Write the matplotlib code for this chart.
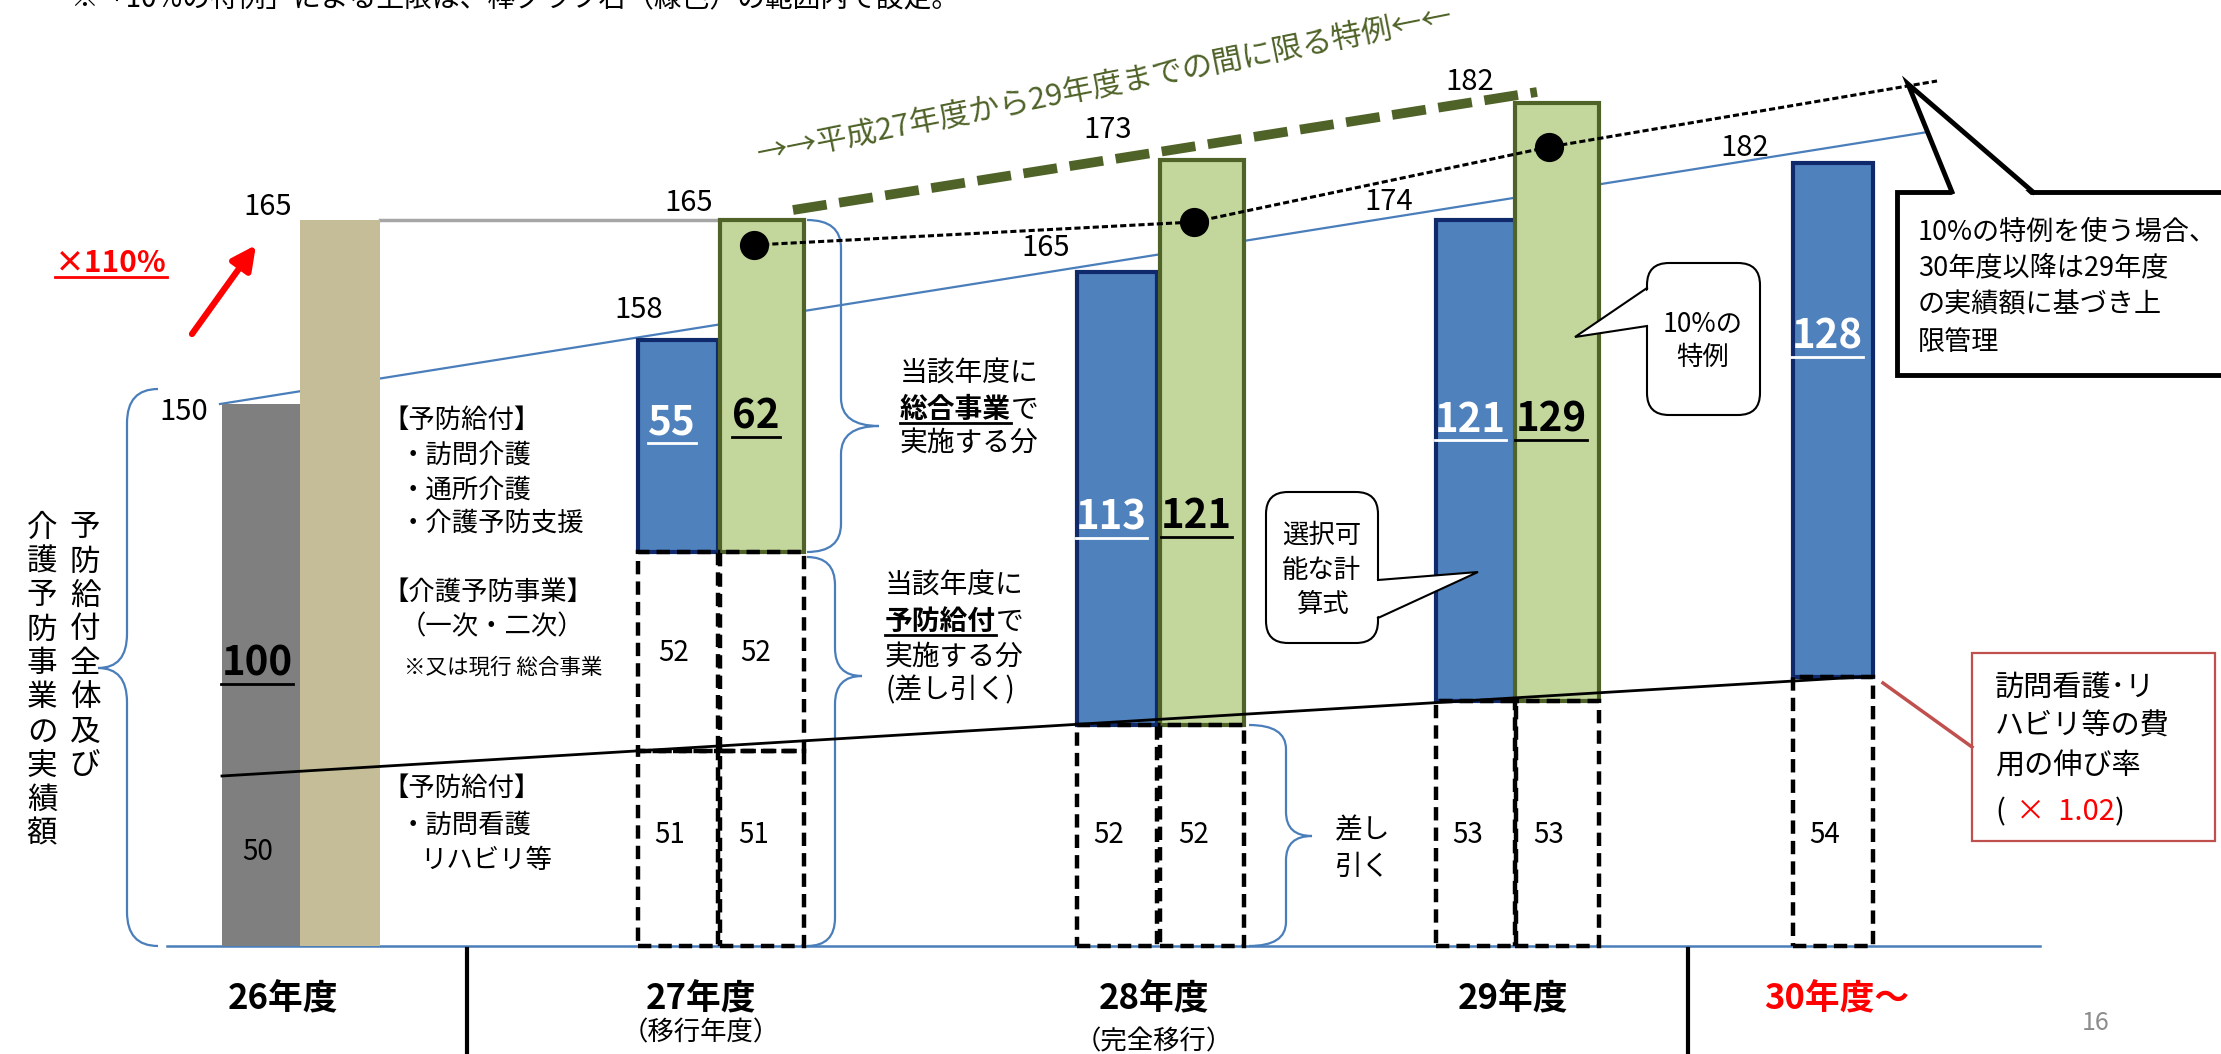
import matplotlib.pyplot as plt
from matplotlib.path import Path
from matplotlib.patches import PathPatch, FancyBboxPatch, Rectangle, Polygon

plt.rcParams['font.family'] = ['Noto Sans CJK JP', 'DejaVu Sans']

W, H = 2221, 1054
BASE = 946  # baseline row of the slide (px from top)


def up(v):
    # slide row (px from top) -> height above the baseline
    return BASE - v


# ---- categories / labels
years = ['26年度', '27年度', '28年度', '29年度', '30年度～']
year_notes = ['', '（移行年度）', '（完全移行）', '', '']
year_colors = ['black', 'black', 'black', 'black', 'red']

# ---- values printed on the slide
actual26 = 150
actual26_total = 100
actual26_nurse = 50
special26 = 165
std_totals = [158, 165, 174, 182]        # 27..30
special_totals = [165, 173, 182]         # 27..29
blue_vals = [55, 113, 121, 128]          # 27..30
green_vals = [62, 121, 129]              # 27..29
nurse_vals = [51, 52, 53, 54]            # 27..30
prev27_val = 52

# ---- drawn heights above baseline (the slide is not drawn to scale)
h26_gray = 542
h26_split = 170
h26_tan = 726
nurse_h = [195, 221, 245, 269]
prev27_h = 394
blue_top_h = [606, 674, 726, 783]
green_top_h = [726, 786, 843]
dot_h = [701, 724, 799, 865]

# ---- x positions
x26 = [261, 340]
blue_x = [678, 1117, 1476, 1833]
green_x = [762, 1202, 1557]
year_x = [283, 701, 1154, 1513, 1837]

BLUE = '#4F81BD'
NAVY = '#10296B'
GREEN = '#C3D69B'
OLIVE = '#4F6228'
LBLUE = '#4A7EBB'

fig = plt.figure(figsize=(W / 100, H / 100), dpi=100)
ax = fig.add_axes([0, 0, 1, 1])
ax.set_xlim(0, W)
ax.set_ylim(BASE - H, BASE)
ax.axis('off')

# ---- lines behind the bars
ax.plot([167, 2040], [0, 0], color=LBLUE, lw=1.8, zorder=2)
ax.plot([220, 1934], [h26_gray, 815], color=LBLUE, lw=1.6, zorder=2)
ax.plot([x26[1] + 40, green_x[0] - 24], [h26_tan, h26_tan], color='#A6A6A6', lw=2.5, zorder=2)

# ---- bars
ax.bar(x26[0], h26_gray, width=78, color='#7F7F7F', zorder=3)
ax.bar(x26[1], h26_tan, width=80, color='#C4BD97', zorder=3)
blue_bot = [prev27_h] + nurse_h[1:]
ax.bar(blue_x, [t - b for t, b in zip(blue_top_h, blue_bot)], bottom=blue_bot, width=80,
       color=BLUE, edgecolor=NAVY, linewidth=3, zorder=3)
green_bot = [prev27_h] + nurse_h[1:3]
ax.bar(green_x, [t - b for t, b in zip(green_top_h, green_bot)], bottom=green_bot, width=84,
       color=GREEN, edgecolor=OLIVE, linewidth=3, zorder=3)

# dashed boxes (差し引く分)
dash_x = blue_x + green_x
dash_h = nurse_h + nurse_h[:3]
dash_w = [80] * 4 + [84] * 3
ax.bar(dash_x, dash_h, width=dash_w, fill=False, edgecolor='black', linewidth=3.2,
       linestyle=(0, (3, 1.6)), zorder=4)
ax.bar([blue_x[0], green_x[0]], prev27_h - nurse_h[0], bottom=nurse_h[0], width=[80, 84],
       fill=False, edgecolor='black', linewidth=3.2, linestyle=(0, (3, 1.6)), zorder=4)

# ---- trend lines on top
ax.plot([222, 1860], [h26_split, nurse_h[-1]], color='black', lw=2, zorder=5)
dot_x = [g - 8 for g in green_x] + [1937]
ax.plot(dot_x, dot_h, color='black', lw=2.2, ls=(0, (2, 1)), zorder=6)
ax.plot(dot_x[:3], dot_h[:3], 'o', color='black', ms=20, zorder=6)
ax.plot([793, 1537], [736, 854], color=OLIVE, lw=7, ls=(0, (3.5, 1.3)),
        solid_capstyle='butt', zorder=6)
ax.text(1105, up(86), '→→平成27年度から29年度までの間に限る特例←←', rotation=11.3,
        rotation_mode='anchor', color=OLIVE, fontsize=22, ha='center', va='center')

# ---- braces


def brace(x_end, x_spine, x_tip, top, bot, tip_y, r=28):
    verts = [(x_end, top), (x_spine, top), (x_spine, top - r),
             (x_spine, tip_y + r), (x_spine, tip_y), (x_tip, tip_y),
             (x_spine, tip_y), (x_spine, tip_y - r),
             (x_spine, bot + r), (x_spine, bot), (x_end, bot)]
    codes = [Path.MOVETO, Path.CURVE3, Path.CURVE3, Path.LINETO, Path.CURVE3, Path.CURVE3,
             Path.CURVE3, Path.CURVE3, Path.LINETO, Path.CURVE3, Path.CURVE3]
    ax.add_patch(PathPatch(Path(verts, codes), fill=False, edgecolor=LBLUE, lw=1.6, zorder=2))


brace(158, 127, 98, up(389), 0, up(668), r=34)
brace(807, 841, 879, green_top_h[0], prev27_h, up(426))
brace(807, 835, 862, prev27_h - 5, 0, up(676))
brace(1249, 1286, 1312, nurse_h[1], 0, up(836), r=24)

# ---- number labels
under = []
ax.text(184, up(412), str(actual26), fontsize=21, ha='center', va='center')
ax.text(268, up(207), str(special26), fontsize=21, ha='center', va='center')
under.append((ax.text(257, up(664), str(actual26_total), fontsize=29, weight='bold',
                      ha='center', va='center'), 'black'))
ax.text(258, up(852), str(actual26_nurse), fontsize=20, ha='center', va='center')

std_xy = [(639, 310), (1046, 248), (1389, 202), (1745, 148)]
for v, (x, y) in zip(std_totals, std_xy):
    ax.text(x, up(y), str(v), fontsize=21, ha='center', va='center')
spec_xy = [(689, 203), (1108, 130), (1470, 82)]
for v, (x, y) in zip(special_totals, spec_xy):
    ax.text(x, up(y), str(v), fontsize=21, ha='center', va='center')

blue_lab_y = [423, 518, 420, 337]
for v, x, y in zip(blue_vals, blue_x, blue_lab_y):
    t = ax.text(x - 6, up(y), str(v), fontsize=29, weight='bold', color='white',
                ha='center', va='center', zorder=8)
    under.append((t, 'white'))
green_lab_y = [417, 517, 420]
for v, x, y in zip(green_vals, green_x, green_lab_y):
    t = ax.text(x - 6, up(y), str(v), fontsize=29, weight='bold', color='black',
                ha='center', va='center', zorder=8)
    under.append((t, 'black'))

for v, bx in zip(nurse_vals, blue_x):
    ax.text(bx - 8, up(835), str(v), fontsize=20, ha='center', va='center')
for v, gx in zip(nurse_vals[:3], green_x):
    ax.text(gx - 8, up(835), str(v), fontsize=20, ha='center', va='center')
ax.text(blue_x[0] - 4, up(653), str(prev27_val), fontsize=20, ha='center', va='center')
ax.text(green_x[0] - 6, up(653), str(prev27_val), fontsize=20, ha='center', va='center')

# ---- ×110% and red arrow
under.append((ax.text(55, up(263), '×110%', fontsize=21.5, weight='bold', color='red',
                      ha='left', va='center'), 'red'))
ax.annotate('', xy=(256, up(245)), xytext=(192, up(334)),
            arrowprops=dict(arrowstyle='-|>', color='red', lw=4.5, mutation_scale=36,
                            shrinkA=0, shrinkB=0))

# ---- vertical caption
for i, ch in enumerate('予防給付全体及び'):
    ax.text(85, up(528 + 34 * i), ch, fontsize=22, ha='center', va='center')
for i, ch in enumerate('介護予防事業の実績額'):
    ax.text(42, up(528 + 34 * i), ch, fontsize=22, ha='center', va='center')

# ---- explanation block left
left_lines = [(382, 420, '【予防給付】', 19), (400, 455, '・訪問介護', 19),
              (400, 490, '・通所介護', 19), (400, 523, '・介護予防支援', 19),
              (382, 592, '【介護予防事業】', 19), (400, 627, '（一次・二次）', 19),
              (404, 668, '※又は現行 総合事業', 15.5),
              (382, 788, '【予防給付】', 19), (400, 825, '・訪問看護', 19),
              (420, 860, 'リハビリ等', 19)]
for x, y, s, fs in left_lines:
    ax.text(x, up(y), s, fontsize=fs, ha='left', va='center')

# ---- brace captions
EM20 = 20 * 100 / 72


def mixed_line(x, y, bold, rest):
    t = ax.text(x, up(y), bold, fontsize=20, weight='bold', ha='left', va='center')
    under.append((t, 'black'))
    ax.text(x + len(bold) * EM20, up(y), rest, fontsize=20, ha='left', va='center')


ax.text(900, up(374), '当該年度に', fontsize=20, ha='left', va='center')
mixed_line(900, 410, '総合事業', 'で')
ax.text(900, up(443), '実施する分', fontsize=20, ha='left', va='center')

ax.text(885, up(586), '当該年度に', fontsize=20, ha='left', va='center')
mixed_line(885, 622, '予防給付', 'で')
ax.text(885, up(657), '実施する分', fontsize=20, ha='left', va='center')
ax.text(885, up(690), '(差し引く)', fontsize=20, ha='left', va='center')

ax.text(1335, up(830), '差し', fontsize=20, ha='left', va='center')
ax.text(1335, up(867), '引く', fontsize=20, ha='left', va='center')

# ---- callouts


def pointer(a, tip, b, lw, inward):
    ax.add_patch(Polygon([(a[0] + inward[0], a[1] + inward[1]), tip,
                          (b[0] + inward[0], b[1] + inward[1])],
                         closed=True, fc='white', ec='none', zorder=8))
    ax.plot([a[0], tip[0], b[0]], [a[1], tip[1], b[1]], color='black', lw=lw,
            solid_joinstyle='miter', zorder=9)


ax.add_patch(FancyBboxPatch((1266, up(643)), 112, 151, boxstyle='round,pad=0,rounding_size=22',
                            fc='white', ec='black', lw=1.5, zorder=7))
pointer((1378, up(580)), (1478, up(572)), (1378, up(618)), 1.5, (-4, 0))
for s, y in zip(['選択可', '能な計', '算式'], [535, 570, 604]):
    ax.text(1322, up(y), s, fontsize=19, ha='center', va='center', zorder=10)

ax.add_patch(FancyBboxPatch((1647, up(415)), 113, 152, boxstyle='round,pad=0,rounding_size=22',
                            fc='white', ec='black', lw=1.5, zorder=7))
pointer((1647, up(288)), (1575, up(337)), (1647, up(326)), 1.5, (4, 0))
for s, y in zip(['10%の', '特例'], [324, 357]):
    ax.text(1703, up(y), s, fontsize=19, ha='center', va='center', zorder=10)

ax.add_patch(Rectangle((1897, up(375)), 360, 183, fc='white', ec='black', lw=3.5, zorder=7,
                       joinstyle='miter'))
pointer((1952, up(192)), (1908, up(84)), (2033, up(192)), 3.5, (0, -5))
for s, y in zip(['10%の特例を使う場合、', '30年度以降は29年度', 'の実績額に基づき上', '限管理'],
                [232, 268, 305, 342]):
    ax.text(1918, up(y), s, fontsize=19.5, ha='left', va='center', zorder=10)

ax.add_patch(Rectangle((1972, up(841)), 243, 188, fc='white', ec='#C0504D', lw=1.6, zorder=7))
ax.plot([1883, 1972], [up(683), up(747)], color='#C0504D', lw=2.5, zorder=7)
for s, y in zip(['訪問看護･リ', 'ハビリ等の費', '用の伸び率'], [688, 727, 767]):
    ax.text(1995, up(y), s, fontsize=21, ha='left', va='center', zorder=10)
ax.text(1995, up(812), '(', fontsize=21, ha='left', va='center', zorder=10)
ax.text(2016, up(812), '×  1.02', fontsize=21, color='red', ha='left', va='center', zorder=10)
ax.text(2115, up(812), ')', fontsize=21, ha='left', va='center', zorder=10)

# ---- x labels and separators
for x, s, c in zip(year_x, years, year_colors):
    ax.text(x, up(999), s, fontsize=25, weight='bold', color=c, ha='center', va='center')
ax.text(year_x[1], up(1033), year_notes[1], fontsize=19, ha='center', va='center')
ax.text(year_x[2], up(1042), year_notes[2], fontsize=19, ha='center', va='center')
ax.plot([467, 467], [up(949), up(1060)], color='black', lw=3)
ax.plot([1688, 1688], [up(949), up(1060)], color='black', lw=3)
ax.text(2096, up(1023), '16', fontsize=18, color='#8C8C8C', ha='center', va='center')

# top note, cut by the top edge (as on the slide)
ax.text(70, up(-1), '※「10%の特例」による上限は、棒グラフ右（緑色）の範囲内で設定。',
        fontsize=20, ha='left', va='center')

# ---- underlines
fig.canvas.draw()
renderer = fig.canvas.get_renderer()
inv = ax.transData.inverted()
for t, c in under:
    bb = t.get_window_extent(renderer).transformed(inv)
    ax.plot([bb.x0, bb.x1], [bb.y0 + 1, bb.y0 + 1], color=c, lw=2, zorder=9)

fig.savefig('out.png', dpi=100)
